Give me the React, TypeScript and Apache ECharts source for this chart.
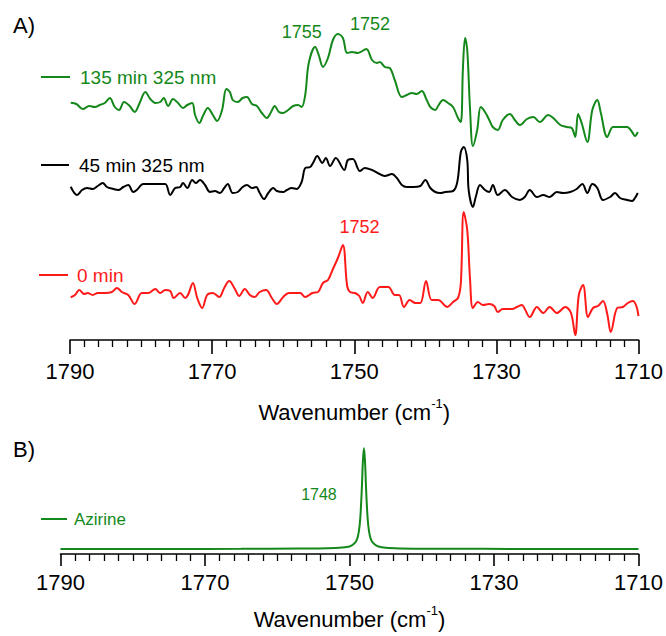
import React, { useEffect, useRef } from "react";
import * as echarts from "echarts";

const FONT = '"Liberation Sans", Arial, Helvetica, sans-serif';
const GREEN = "#14881a";
const RED = "#ff1a1a";
const BLACK = "#000000";

// Difference spectra, [wavenumber (cm-1), ΔA (arb. units)]
const trace135: [number, number][] = [
  [1789.9, 0.23], [1789.1, 0.1], [1788.2, -0.4], [1787.3, -0.1], [1786.5, -0.2], [1785.8, 0],
  [1785.1, 0.2], [1784.4, 0.7], [1783.7, -0.2], [1783.1, -0.5], [1782.4, 0.3], [1781.6, -0.1],
  [1780.9, -0.7], [1780.2, 0.2], [1779.4, 1.3], [1778.7, 0.6], [1778.0, 0.2], [1777.3, 0.3],
  [1776.8, 0.7], [1776.2, -0.1], [1775.5, 0.6], [1774.8, 0.2], [1774.1, -0.3], [1773.5, 0],
  [1772.8, 0.2], [1772.4, -1.0], [1771.8, -1.8], [1771.3, -1.1], [1770.6, -0.3], [1769.9, -1.0],
  [1769.3, -1.6], [1768.6, -0.5], [1768.0, 1.6], [1767.5, 1.3], [1767.1, 0.5], [1766.4, 0.3],
  [1765.7, 0.7], [1765.1, 0.8], [1764.4, 0.1], [1763.7, -0.1], [1763.0, -0.8], [1762.3, -1.3],
  [1761.7, -0.7], [1761.2, -0.1], [1760.6, -0.7], [1760.0, -0.8], [1759.3, -0.5], [1758.6, -0.1],
  [1757.9, 0], [1757.4, -0.2], [1756.9, 1.0], [1756.4, 4.2], [1755.5, 5.8], [1755.0, 5.0],
  [1754.4, 3.8], [1753.7, 4.7], [1753.0, 6.5], [1752.3, 7.1], [1751.6, 6.7], [1751.0, 5.2],
  [1750.3, 5.3], [1749.5, 5.2], [1748.3, 5.6], [1747.5, 4.5], [1746.8, 4.2], [1746.4, 4.3],
  [1745.7, 3.8], [1745.0, 3.7], [1744.3, 2.5], [1743.3, 0.8], [1742.6, 1.0], [1741.9, 1.2],
  [1741.2, 1.1], [1740.5, 1.4], [1739.8, 0.5], [1739.3, -0.2], [1738.6, -0.5], [1738.2, -0.1],
  [1737.5, 0.5], [1736.8, 0.2], [1736.1, -0.2], [1735.4, -1.3], [1735.0, -1.7], [1734.7, 3.8],
  [1734.4, 6.7], [1734.1, 5.5], [1733.7, -0.5], [1733.3, -4.1], [1732.7, -2.5], [1732.2, -0.2],
  [1731.6, -0.7], [1731.0, -1.5], [1730.5, -2.2], [1729.8, -2.5], [1729.1, -1.5], [1728.1, -0.9],
  [1727.4, -1.5], [1726.7, -2.0], [1725.7, -1.4], [1724.8, -1.2], [1723.9, -1.7], [1722.7, -1.0],
  [1722.0, -1.3], [1721.0, -2.0], [1720.1, -2.2], [1719.4, -2.3], [1718.9, -3.2], [1718.5, -0.9],
  [1718.0, -1.8], [1717.2, -3.7], [1716.5, -0.5], [1715.8, 0.5], [1715.3, -0.8], [1714.4, -3.2],
  [1713.6, -2.2], [1712.9, -2.2], [1711.6, -2.2], [1710.9, -2.7], [1710.5, -3.1], [1710.1, -2.7],
];

const trace45: [number, number][] = [
  [1789.9, 0.33], [1789.0, -0.5], [1788.3, 0], [1787.6, 0.2], [1786.8, 0.1], [1786.1, 0.4],
  [1785.4, 0.7], [1784.8, 0.3], [1783.9, 0.1], [1783.2, 0], [1782.5, 0.3], [1781.8, 0.5],
  [1781.1, -0.2], [1780.6, 0], [1779.7, 0.6], [1778.7, 0.6], [1777.8, 0.6], [1776.6, 0.6],
  [1775.9, -0.5], [1775.2, 0.2], [1774.5, 0.3], [1774.1, 0.7], [1773.5, 0.2], [1772.8, 1.0],
  [1772.3, 0.7], [1771.7, 1.0], [1771.0, 0.5], [1770.3, -0.2], [1769.6, -0.1], [1768.9, -0.3],
  [1768.3, 0.2], [1767.8, 0.6], [1767.1, -0.3], [1766.4, -0.2], [1765.7, 0.3], [1765.1, 0.5],
  [1764.4, 0.2], [1763.8, 0.3], [1763.3, -0.3], [1762.7, -0.9], [1762.1, -0.3], [1761.4, 0.2],
  [1760.9, -0.1], [1760.0, -0.2], [1759.5, 0], [1758.8, 0.2], [1758.1, 0.1], [1757.4, 0.8],
  [1756.9, 2.2], [1756.2, 2.3], [1755.8, 2.7], [1755.2, 3.4], [1754.5, 2.7], [1754.0, 3.2],
  [1753.4, 2.4], [1752.6, 3.2], [1751.4, 2.0], [1750.9, 3.0], [1750.2, 3.1], [1749.2, 1.9],
  [1748.5, 2.2], [1747.5, 2.0], [1746.7, 1.7], [1745.7, 1.4], [1744.7, 1.6], [1744.0, 1.2],
  [1743.3, 0.5], [1742.6, 0.3], [1741.7, 0.3], [1740.7, 0.4], [1740.0, 1.0], [1739.3, 0.2],
  [1738.6, -0.2], [1737.9, -0.3], [1737.2, -0.2], [1736.1, -0.1], [1735.5, 0.8], [1735.0, 3.8],
  [1734.6, 4.3], [1734.1, 3.0], [1733.9, 0], [1733.3, -1.7], [1732.9, -0.7], [1732.3, 0.5],
  [1731.6, 0], [1731.0, -0.2], [1730.5, 0.5], [1729.8, -0.5], [1728.8, 0], [1727.8, -0.7],
  [1726.7, -1.0], [1726.0, -0.7], [1725.3, 0], [1724.3, -0.7], [1723.4, -0.5], [1722.5, -0.7],
  [1721.5, -0.2], [1720.6, -0.3], [1719.6, -0.2], [1718.7, 0.1], [1717.9, 0.6], [1717.2, -0.3],
  [1716.5, 0.6], [1715.8, 0.2], [1715.0, -1.0], [1714.0, -0.7], [1713.3, -0.3], [1712.6, -0.8],
  [1711.6, -1.0], [1710.9, -1.1], [1710.5, -0.8], [1710.1, -0.3],
];

const trace0: [number, number][] = [
  [1789.9, -0.23], [1789.3, 0], [1788.7, 0.5], [1788.0, 0.1], [1787.5, 0.2], [1786.8, 0],
  [1786.1, 0.2], [1785.1, 0.2], [1784.1, 0.3], [1783.4, 0.7], [1782.7, 0.3], [1781.8, 0],
  [1780.9, -0.9], [1779.9, 0.2], [1779.0, 0.2], [1778.0, 0.6], [1777.3, 0.2], [1776.6, 0.5],
  [1775.9, 0.4], [1775.4, -0.3], [1774.5, 0.2], [1773.8, -0.3], [1773.4, 0], [1772.7, 1.2],
  [1772.1, -0.3], [1771.4, -1.3], [1770.7, 0], [1769.9, 0.2], [1769.0, -0.2], [1768.3, 0.7],
  [1767.6, 1.4], [1766.8, 0.6], [1766.2, -0.1], [1765.4, 0.6], [1764.7, 0], [1764.0, -0.2],
  [1763.3, 0.3], [1762.4, 0.5], [1761.6, -0.3], [1760.9, -0.9], [1760.0, -0.2], [1759.2, 0.2],
  [1758.3, 0.2], [1757.6, 0.2], [1756.9, -0.2], [1755.9, 0.2], [1755.1, 0.3], [1754.4, 1.2],
  [1753.7, 1.5], [1753.0, 2.6], [1752.3, 3.7], [1751.6, 5.0], [1751.0, 0.9], [1750.6, 0.3],
  [1749.9, 0.2], [1749.3, -0.1], [1748.8, -0.8], [1748.1, 0.3], [1747.4, -0.3], [1746.4, 0.8],
  [1745.2, 0.8], [1744.3, 0], [1743.7, 0], [1743.0, -1.2], [1742.2, -0.5], [1741.4, -0.8],
  [1740.7, -0.8], [1739.9, 1.4], [1739.1, -0.5], [1738.2, -0.5], [1736.9, -1.2], [1736.1, -0.7],
  [1735.4, -0.3], [1735.0, 1.2], [1734.6, 8.3], [1734.1, 6.5], [1733.7, 1.5], [1733.3, -1.3],
  [1732.6, -0.7], [1731.9, -1.0], [1731.0, -0.9], [1730.3, -1.1], [1729.8, -1.7], [1729.1, -1.4],
  [1727.8, -1.4], [1727.1, -1.2], [1726.4, -1.0], [1726.0, -1.4], [1725.3, -2.2], [1724.3, -1.2],
  [1723.4, -1.8], [1722.5, -1.2], [1721.5, -1.8], [1720.3, -1.2], [1719.5, -1.8], [1718.9, -4.0],
  [1718.4, 0], [1717.8, 1.0], [1717.1, -2.2], [1716.4, -1.3], [1715.7, -1.1], [1715.0, -0.6],
  [1714.4, -1.9], [1713.9, -3.7], [1713.0, -1.3], [1712.2, -1.2], [1711.5, -0.8], [1710.8, -0.6],
  [1710.3, -1.1], [1710.0, -2.1],
];

// Computed azirine spectrum
const azirine: [number, number][] = [
  [1790, 0], [1775, 0], [1765, 0.02], [1757, 0.05], [1753, 0.08], [1751, 0.15], [1750, 0.25],
  [1749.5, 0.45], [1749.0, 0.9], [1748.7, 1.8], [1748.5, 3.2], [1748.3, 6.0], [1748.15, 8.8],
  [1748.0, 10.2], [1747.85, 8.8], [1747.7, 6.0], [1747.5, 3.2], [1747.3, 1.8], [1747.0, 0.9],
  [1746.5, 0.45], [1746, 0.25], [1745, 0.12], [1743, 0.06], [1738, 0.03], [1725, 0.01], [1710, 0],
];

const xTicks = [1790, 1770, 1750, 1730, 1710];

// vertical stacking offsets for panel A
const OFF_135 = 23.5;
const OFF_45 = 15;
const OFF_0 = 4.5;

const shift = (t: [number, number][], off: number) => t.map(([w, v]) => [w, v + off]);
const valueAt = (t: [number, number][], wn: number) =>
  t.reduce((best, p) => (Math.abs(p[0] - wn) < Math.abs(best[0] - wn) ? p : best))[1];

const peakLabel = (text: string, coord: number[], offset: number[], color: string, size: number) => ({
  coord,
  symbol: "circle",
  symbolSize: 0,
  label: {
    show: true,
    formatter: text,
    offset,
    color,
    fontSize: size,
    fontFamily: FONT,
    position: "inside",
  },
});

const makeAxis = (gridIndex: number, labelMargin: number, nameGap: number, tickLen: number) => ({
  type: "value",
  gridIndex,
  min: xTicks[xTicks.length - 1],
  max: xTicks[0],
  interval: 20,
  inverse: true,
  axisLine: { show: true, onZero: false, lineStyle: { color: "#000", width: 1.6 } },
  axisTick: { show: true, length: tickLen, lineStyle: { color: "#000", width: 1.6 } },
  minorTick: { show: true, splitNumber: 10, length: 7, lineStyle: { color: "#000", width: 1.3 } },
  splitLine: { show: false },
  minorSplitLine: { show: false },
  axisLabel: {
    fontSize: 22,
    color: "#000",
    margin: labelMargin,
    fontFamily: FONT,
    formatter: (v: number) => String(v),
  },
  name: "{t|Wavenumber (cm}{s|-1}{t|)}",
  nameLocation: "middle",
  nameGap,
  nameTextStyle: {
    rich: {
      t: { fontSize: 22, color: "#000", fontFamily: FONT, lineHeight: 26, verticalAlign: "bottom" },
      s: { fontSize: 13, color: "#000", fontFamily: FONT, lineHeight: 13, verticalAlign: "top" },
    },
  },
});

const legendItem = (x1: number, x2: number, y: number, tx: number, text: string, color: string, size: number) => [
  { type: "line", shape: { x1, y1: y, x2, y2: y }, style: { stroke: color, lineWidth: 2 } },
  {
    type: "text",
    x: tx,
    y,
    style: { text, fill: color, font: `${size}px ${FONT}`, verticalAlign: "middle", align: "left" },
  },
];

export default function App() {
  const ref = useRef<HTMLDivElement>(null);

  useEffect(() => {
    if (!ref.current) return;
    const chart = echarts.init(ref.current, undefined, { renderer: "svg" });

    const lineSeries = (name: string, data: number[][], color: string, axisIndex: number, markData: any[]) => ({
      name,
      type: "line",
      xAxisIndex: axisIndex,
      yAxisIndex: axisIndex,
      data,
      showSymbol: false,
      smooth: 0.35,
      clip: false,
      lineStyle: { color, width: 2 },
      itemStyle: { color },
      markPoint: markData.length ? { silent: true, data: markData } : undefined,
    });

    const option: any = {
      animation: false,
      backgroundColor: "#ffffff",
      textStyle: { fontFamily: FONT },
      grid: [
        { left: 70, right: 27.5, top: 20, height: 320, outerBoundsMode: "none" },
        { left: 60.5, right: 27.5, top: 440, height: 114, outerBoundsMode: "none" },
      ],
      xAxis: [makeAxis(0, 20, 57, 14), makeAxis(1, 17, 50, 12)],
      yAxis: [
        { type: "value", gridIndex: 0, min: 0, max: 32, show: false },
        { type: "value", gridIndex: 1, min: -0.5, max: 11, show: false },
      ],
      series: [
        lineSeries("135 min 325 nm", shift(trace135, OFF_135), GREEN, 0, [
          peakLabel("1755", [1755, valueAt(trace135, 1755.5) + OFF_135], [-17, -15], GREEN, 18),
          peakLabel("1752", [1752, valueAt(trace135, 1752) + OFF_135], [30, -10], GREEN, 18),
        ]),
        lineSeries("45 min 325 nm", shift(trace45, OFF_45), BLACK, 0, []),
        lineSeries("0 min", shift(trace0, OFF_0), RED, 0, [
          peakLabel("1752", [1752, valueAt(trace0, 1751.6) + OFF_0], [19.5, -18], RED, 18),
        ]),
        lineSeries("Azirine", azirine, GREEN, 1, [
          peakLabel("1748", [1748, valueAt(azirine, 1748)], [-45, 47], GREEN, 16),
        ]),
      ],
      graphic: [
        { type: "text", x: 13, y: 25, style: { text: "A)", fill: "#000", font: `22px ${FONT}`, verticalAlign: "middle" } },
        { type: "text", x: 13, y: 449, style: { text: "B)", fill: "#000", font: `22px ${FONT}`, verticalAlign: "middle" } },
        ...legendItem(41, 70, 77, 80, "135 min 325 nm", GREEN, 19),
        ...legendItem(41, 69, 165, 79, "45 min 325 nm", BLACK, 19),
        ...legendItem(39, 68, 275, 77, "0 min", RED, 19),
        ...legendItem(41, 67, 519, 74, "Azirine", GREEN, 17),
      ],
    };

    chart.setOption(option);
    return () => chart.dispose();
  }, []);

  return (
    <div
      ref={ref}
      style={{ position: "fixed", left: 0, top: 0, width: 666, height: 636, background: "#fff" }}
    />
  );
}
